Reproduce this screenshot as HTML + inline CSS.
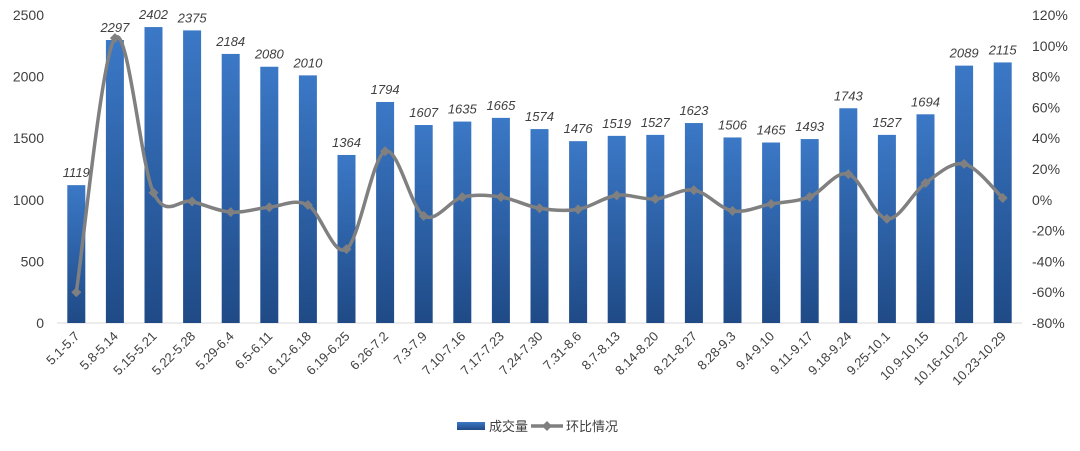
<!DOCTYPE html>
<html><head><meta charset="utf-8"><style>
body{margin:0;background:#fff;}
svg{display:block;font-family:"Liberation Sans","Noto Sans CJK SC",sans-serif;}
</style></head><body>
<svg id="chart" width="1080" height="451">
<defs>
<linearGradient id="bg" x1="0" y1="0" x2="0" y2="1">
<stop offset="0" stop-color="#3b78c6"/><stop offset="1" stop-color="#1f4a86"/>
</linearGradient>
</defs>
<g id="g"></g>
</svg>
<script>
const categories=["5.1-5.7","5.8-5.14","5.15-5.21","5.22-5.28","5.29-6.4","6.5-6.11","6.12-6.18","6.19-6.25","6.26-7.2","7.3-7.9","7.10-7.16","7.17-7.23","7.24-7.30","7.31-8.6","8.7-8.13","8.14-8.20","8.21-8.27","8.28-9.3","9.4-9.10","9.11-9.17","9.18-9.24","9.25-10.1","10.9-10.15","10.16-10.22","10.23-10.29"];
const volumes=[1119,2297,2402,2375,2184,2080,2010,1364,1794,1607,1635,1665,1574,1476,1519,1527,1623,1506,1465,1493,1743,1527,1694,2089,2115];
const ratios=[-60,105,4.6,-1.1,-8,-4.8,-3.4,-32,31.5,-10.4,1.7,1.8,-5.5,-6.2,2.9,0.5,6.3,-7.2,-2.7,1.9,16.7,-12.4,10.9,23.3,1.2];
const leftTicks=[0,500,1000,1500,2000,2500];
const rightTicks=[-80,-60,-40,-20,0,20,40,60,80,100,120];
const NS="http://www.w3.org/2000/svg";
const g=document.getElementById('g');
const L=57,R=1022,T=15,B=323;
const n=categories.length,step=(R-L)/n;
const xc=i=>L+step*(i+0.5);
const yL=v=>B-(v/2500)*(B-T);
const yR=v=>B-((v+80)/200)*(B-T);
function mk(t,a,txt){const e=document.createElementNS(NS,t);for(const k in a)e.setAttribute(k,a[k]);if(txt!==undefined)e.textContent=txt;g.appendChild(e);return e;}
const ax=mk('line',{x1:L,x2:R,y1:B,y2:B,stroke:'#d9d9d9'});


leftTicks.forEach(v=>{const t=mk('text',{x:44,y:yL(v)+5,'text-anchor':'end','font-size':14,fill:'#404040'},v);

});
rightTicks.forEach(v=>{const t=mk('text',{x:1032,y:yR(v)+5,'font-size':14,fill:'#404040'},v+'%');

});
const bw=18;
volumes.forEach((v,i)=>{
const r=mk('rect',{x:xc(i)-bw/2,y:yL(v),width:bw,height:B-yL(v),fill:'url(#bg)'});


const t=mk('text',{x:xc(i),y:yL(v)-8,'text-anchor':'middle','font-size':13,'font-style':'italic',fill:'#404040'},v);


const c=mk('text',{x:xc(i)+4,y:B+14,'text-anchor':'end','font-size':13,fill:'#404040',transform:`rotate(-45 ${xc(i)+4} ${B+14})`},categories[i]);


});
const pts=ratios.map((v,i)=>[xc(i),yR(v)]);
let d=`M${pts[0][0]},${pts[0][1]}`;
for(let i=0;i<pts.length-1;i++){const p0=pts[Math.max(0,i-1)],p1=pts[i],p2=pts[i+1],p3=pts[Math.min(pts.length-1,i+2)];
const c1=[p1[0]+(p2[0]-p0[0])/6,p1[1]+(p2[1]-p0[1])/6],c2=[p2[0]-(p3[0]-p1[0])/6,p2[1]-(p3[1]-p1[1])/6];
d+=` C${c1[0]},${c1[1]} ${c2[0]},${c2[1]} ${p2[0]},${p2[1]}`;}
const ln=mk('path',{d,fill:'none',stroke:'#808080','stroke-width':3.5});


pts.forEach(p=>{const m=mk('path',{d:`M${p[0]},${p[1]-5}L${p[0]+5},${p[1]}L${p[0]},${p[1]+5}L${p[0]-5},${p[1]}Z`,fill:'#808080'});

});
const lg1=mk('rect',{x:457,y:422,width:28,height:8,fill:'url(#bg)'});


const lt1=mk('text',{x:489,y:431,'font-size':13,fill:'#404040'},'成交量');


const lg2=mk('line',{x1:531,x2:563,y1:426,y2:426,stroke:'#808080','stroke-width':3.5});


const lm=mk('path',{d:'M547,421L552,426L547,431L542,426Z',fill:'#808080'});


const lt2=mk('text',{x:566,y:431,'font-size':13,fill:'#404040'},'环比情况');


</script>
</body></html>
